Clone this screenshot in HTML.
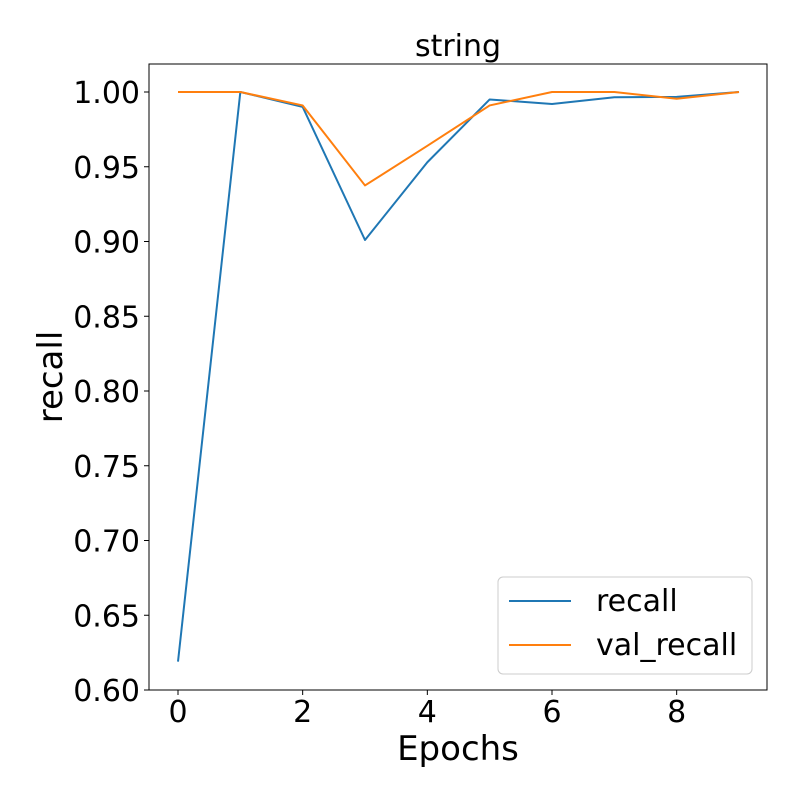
<!DOCTYPE html>
<html><head><meta charset="utf-8"><style>
body{margin:0;background:#fff}
svg{display:block;font-family:"DejaVu Sans","Liberation Sans",sans-serif}
</style></head><body>
<svg id="chart" width="800" height="800"></svg>
<script>
const epochs=[0,1,2,3,4,5,6,7,8,9];
const recall=[0.619,1.0,0.990,0.901,0.953,0.995,0.992,0.9965,0.9967,1.0];
const valRecall=[1.0,1.0,0.991,0.9375,0.964,0.991,1.0,1.0,0.9955,1.0];
const yTicks=[0.60,0.65,0.70,0.75,0.80,0.85,0.90,0.95,1.00];
const xTicks=[0,2,4,6,8];
const NS="http://www.w3.org/2000/svg";
const svg=document.getElementById('chart');
const L=149,R=767,T=64,B=690;
const xs=v=>178+(v-0)*(739-178)/9;
const ys=v=>92+(1-v)*1495;
function el(tag,attrs,parent){const e=document.createElementNS(NS,tag);for(const k in attrs)e.setAttribute(k,attrs[k]);(parent||svg).appendChild(e);return e;}
function txt(s,attrs){const t=el('text',attrs);t.textContent=s;return t;}
let frame=el('rect',{x:L,y:T,width:R-L,height:B-T,fill:'none',stroke:'#000','stroke-width':1});


yTicks.forEach(v=>{
  const y=ys(v);
  const tk=el('line',{x1:L-5,x2:L,y1:y,y2:y,stroke:'#000'});
  
  
  const t=txt(v.toFixed(2),{x:L-9,y:y+11,'font-size':30,'text-anchor':'end'});
  
  
});
xTicks.forEach(v=>{
  const x=xs(v);
  const tk=el('line',{x1:x,x2:x,y1:B,y2:B+5,stroke:'#000'});
  
  
  const t=txt(String(v),{x:x,y:B+32,'font-size':30,'text-anchor':'middle'});
  
  
});
function series(vals,color,name){
  const p=el('polyline',{points:vals.map((v,i)=>xs(epochs[i])+','+ys(v)).join(' '),fill:'none',stroke:color,'stroke-width':2,'stroke-linejoin':'round'});
  
  
}
series(recall,'#1f77b4','recall-line');
series(valRecall,'#ff7f0e','val-recall-line');
let t1=txt('string',{x:458,y:56,'font-size':30,'text-anchor':'middle'});


let t2=txt('Epochs',{x:458,y:760,'font-size':34,'text-anchor':'middle'});


let t3=txt('recall',{x:0,y:0,'font-size':34,'text-anchor':'middle',transform:'translate(62,377) rotate(-90)'});


const lg=el('g',{});


el('rect',{x:498,y:577,width:254,height:97,rx:5,fill:'#fff',stroke:'#ccc'},lg);
const e1=el('line',{x1:509,x2:571,y1:601,y2:601,stroke:'#1f77b4','stroke-width':2},lg);


const l1=el('text',{x:596,y:611,'font-size':30},lg);l1.textContent='recall';
const e2=el('line',{x1:509,x2:571,y1:645,y2:645,stroke:'#ff7f0e','stroke-width':2},lg);


const l2=el('text',{x:596,y:655,'font-size':30},lg);l2.textContent='val_recall';
</script>
</body></html>
